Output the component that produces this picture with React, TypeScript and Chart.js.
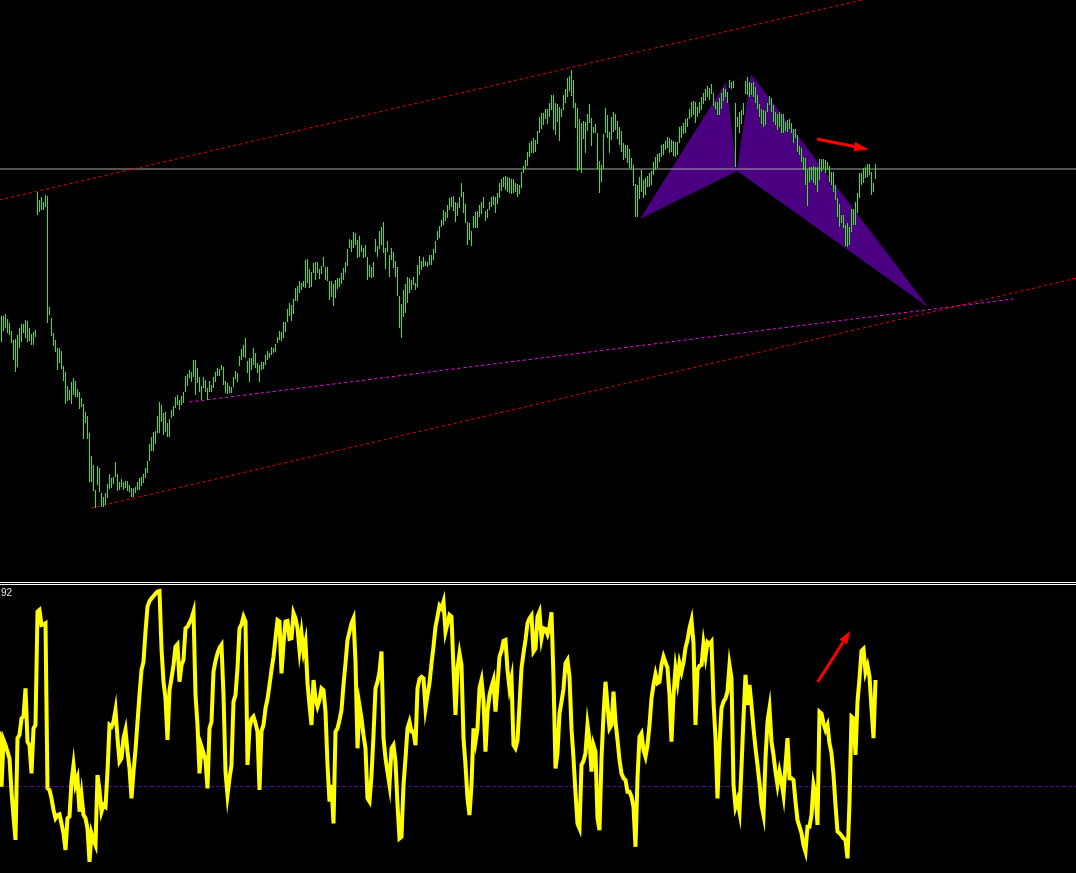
import React, { useEffect, useRef } from "react";
import { Chart, registerables } from "chart.js";

Chart.register(...registerables);

// ---------- Price panel data (bar index -> high / low, in price points) ----------
const barHighs = [
  284, 284, 286, 281, 277, 269, 260, 261, 265, 272,
  276, 276, 280, 279, 272, 266, 268, 270, 408, 400,
  403, 398, 405, 404, 293, 282, 267, 260, 252, 252,
  249, 234, 228, 214, 210, 218, 222, 219, 211, 208,
  202, 196, 188, 184, 167, 144, 135, 110, 134, 132,
  107, 103, 107, 116, 126, 122, 123, 138, 126, 118,
  121, 118, 119, 119, 115, 112, 112, 113, 118, 122,
  123, 126, 132, 139, 156, 163, 168, 169, 184, 198,
  195, 187, 188, 177, 181, 190, 194, 203, 205, 200,
  204, 208, 224, 226, 230, 228, 240, 240, 232, 223,
  214, 223, 220, 212, 219, 215, 223, 228, 232, 231,
  235, 233, 219, 217, 214, 213, 223, 229, 227, 244,
  251, 255, 262, 239, 242, 242, 252, 247, 237, 235,
  238, 238, 245, 249, 247, 253, 252, 256, 263, 269,
  268, 278, 278, 291, 297, 295, 301, 312, 314, 319,
  317, 319, 340, 341, 331, 328, 337, 338, 338, 331,
  334, 343, 333, 333, 319, 319, 316, 320, 322, 322,
  327, 332, 338, 351, 361, 360, 368, 367, 360, 364,
  355, 352, 355, 343, 335, 333, 338, 361, 354, 369,
  373, 378, 352, 359, 345, 352, 348, 339, 333, 304,
  296, 310, 316, 323, 322, 320, 323, 317, 335, 344,
  339, 343, 339, 338, 345, 345, 351, 359, 369, 374,
  380, 390, 388, 395, 402, 403, 404, 398, 397, 403,
  417, 408, 396, 378, 377, 369, 384, 388, 389, 395,
  398, 403, 389, 391, 398, 403, 404, 403, 407, 417,
  421, 423, 424, 423, 422, 421, 421, 417, 416, 415,
  428, 434, 440, 448, 457, 459, 462, 460, 469, 483,
  487, 487, 491, 491, 497, 505, 505, 497, 496, 493,
  491, 505, 511, 522, 524, 530, 520, 497, 492, 481,
  477, 479, 478, 486, 496, 482, 473, 476, 467, 439,
  435, 466, 492, 485, 468, 483, 488, 486, 479, 473,
  469, 457, 455, 455, 451, 442, 435, 416, 415, 423,
  430, 420, 422, 424, 427, 429, 438, 443, 446, 447,
  455, 456, 459, 463, 462, 460, 459, 458, 458, 473,
  474, 477, 481, 482, 491, 498, 499, 498, 493, 498,
  503, 507, 511, 514, 512, 516, 507, 498, 498, 502,
  507, 512, 511, 508, 520, 518, 519, 497, 483, 488,
  490, 497, 519, 523, 518, 517, 518, 513, 505, 496,
  491, 490, 489, 497, 504, 502, 495, 488, 486, 488,
  486, 486, 478, 480, 481, 477, 471, 471, 465, 454,
  452, 443, 442, 430, 433, 433, 434, 433, 433, 441,
  441, 441, 440, 438, 434, 428, 428, 415, 402, 396,
  385, 385, 375, 377, 373, 391, 391, 398, 407, 427,
  427, 432, 433, 436, 436, 428, 417, 436,
];

const barLows = [
  258, 269, 272, 267, 265, 257, 240, 228, 233, 252,
  258, 267, 262, 258, 259, 255, 255, 263, 385, 388,
  390, 390, 393, 277, 285, 264, 254, 248, 230, 237,
  231, 219, 196, 199, 200, 196, 205, 203, 203, 191,
  193, 161, 177, 161, 118, 118, 109, 92, 115, 108,
  93, 93, 95, 102, 111, 112, 116, 123, 109, 110,
  113, 110, 112, 109, 108, 103, 103, 107, 110, 110,
  114, 117, 122, 127, 139, 149, 149, 156, 167, 167,
  178, 165, 168, 163, 163, 182, 184, 192, 195, 190,
  195, 197, 208, 214, 222, 218, 223, 205, 217, 208,
  200, 212, 208, 200, 208, 208, 212, 218, 224, 224,
  230, 215, 207, 206, 207, 207, 213, 221, 218, 234,
  240, 243, 242, 227, 218, 230, 235, 232, 227, 218,
  230, 231, 235, 240, 242, 245, 247, 248, 257, 260,
  259, 262, 268, 278, 284, 279, 286, 299, 299, 307,
  310, 313, 312, 317, 312, 313, 327, 320, 327, 321,
  326, 333, 320, 319, 300, 303, 294, 302, 311, 313,
  316, 320, 327, 334, 352, 348, 352, 355, 342, 343,
  348, 342, 343, 320, 323, 322, 323, 348, 343, 351,
  355, 347, 331, 348, 323, 340, 332, 323, 304, 272,
  262, 283, 287, 297, 307, 310, 315, 310, 313, 325,
  330, 333, 334, 333, 335, 335, 340, 347, 360, 362,
  373, 375, 379, 382, 390, 393, 389, 378, 384, 392,
  403, 387, 377, 355, 360, 354, 372, 372, 372, 383,
  386, 392, 379, 382, 390, 393, 395, 387, 396, 402,
  409, 413, 410, 408, 407, 406, 407, 408, 403, 406,
  412, 427, 431, 434, 443, 447, 447, 448, 456, 467,
  471, 475, 481, 476, 483, 490, 470, 465, 478, 459,
  483, 490, 497, 503, 509, 504, 492, 472, 429, 431,
  427, 461, 447, 469, 477, 454, 467, 467, 431, 407,
  418, 431, 467, 462, 447, 460, 468, 470, 461, 455,
  448, 440, 442, 437, 432, 431, 414, 383, 383, 401,
  408, 402, 405, 413, 413, 415, 425, 430, 432, 438,
  443, 445, 450, 452, 447, 448, 444, 443, 445, 457,
  462, 466, 467, 473, 481, 483, 485, 477, 483, 487,
  490, 496, 499, 503, 500, 506, 494, 491, 485, 485,
  491, 499, 503, 497, 512, 511, 512, 433, 473, 467,
  476, 485, 506, 505, 503, 505, 503, 497, 491, 483,
  476, 473, 475, 488, 495, 488, 478, 475, 470, 473,
  467, 467, 469, 468, 471, 467, 457, 462, 448, 445,
  438, 430, 415, 394, 418, 420, 417, 415, 408, 420,
  428, 431, 427, 430, 418, 415, 408, 400, 383, 373,
  377, 372, 354, 353, 355, 368, 375, 375, 387, 402,
  415, 417, 422, 423, 425, 405, 408, 421,
];

// Drawn objects on the price panel: [bar index, price]
const upperChannel = [[-1, 400], [538, 650]];
const lowerChannel = [[45, 92], [538, 322]];
const supportLine = [[94, 198], [506, 301]];
const horizontalLevel = 431;
const patternXAB = [[319.25, 381], [362.25, 518], [367.75, 429]];
const patternBCD = [[367.75, 429], [374.75, 526], [463.25, 293]];
const priceArrow = [[407.75, 461], [433.75, 450.5]];

// ---------- Oscillator panel data ----------
const oscStartIndex = -1;
const oscValues = [
  49.1,
  30.0, 46.2, 44.4, 42.1, 39.8, 28.2, 19.6, 11.5, 46.8, 47.9,
  53.7, 54.3, 64.1, 45.6, 44.4, 34.6, 50.2, 51.4, 90.7, 91.3,
  86.1, 86.3, 86.7, 29.4, 28.8, 25.9, 21.9, 19.0, 20.1, 20.4,
  17.2, 13.8, 8.0, 19.0, 19.6, 31.7, 37.5, 30.6, 32.9, 21.3,
  27.1, 20.1, 19.0, 15.5, 3.9, 13.8, 11.5, 9.7, 34.0, 28.8,
  21.3, 23.6, 23.0, 35.2, 51.4, 50.8, 52.5, 56.6, 46.8, 38.7,
  39.8, 46.8, 49.7, 42.1, 36.3, 25.9, 35.2, 42.7, 52.5, 61.8,
  70.5, 73.4, 83.8, 92.5, 94.4, 95.4, 96.1, 97.0, 97.7, 97.9,
  78.0, 66.4, 60.6, 46.2, 63.5, 67.6, 72.2, 78.6, 79.4, 66.4,
  72.2, 74.0, 85.0, 85.5, 86.9, 88.4, 90.7, 61.8, 51.4, 34.6,
  43.9, 41.6, 39.2, 29.4, 50.2, 52.5, 69.9, 73.6, 76.3, 78.2,
  79.2, 61.8, 35.2, 27.1, 32.9, 37.5, 59.5, 61.8, 71.1, 85.0,
  86.3, 89.0, 87.3, 37.5, 50.2, 53.5, 54.3, 52.0, 49.1, 28.8,
  49.3, 51.4, 57.2, 60.4, 65.3, 70.5, 75.1, 81.5, 87.8, 87.3,
  69.3, 79.7, 87.3, 87.5, 81.3, 81.5, 90.2, 88.4, 85.0, 77.4,
  83.2, 76.9, 80.3, 65.9, 58.3, 51.4, 67.0, 60.6, 57.8, 60.1,
  64.1, 63.5, 56.0, 37.5, 24.8, 30.6, 17.2, 49.1, 50.2, 53.1,
  56.6, 65.3, 72.8, 80.9, 83.8, 86.7, 88.4, 73.4, 43.3, 58.1,
  53.7, 47.9, 43.3, 25.9, 24.8, 34.0, 47.9, 64.1, 66.4, 69.9,
  76.9, 46.8, 39.8, 35.2, 30.6, 43.3, 44.4, 38.7, 23.6, 12.0,
  12.6, 30.6, 39.8, 50.2, 52.5, 49.1, 49.1, 44.4, 64.1, 67.4,
  68.1, 67.6, 57.2, 61.8, 65.9, 72.8, 78.6, 85.5, 89.0, 92.8,
  91.9, 94.2, 83.8, 86.7, 89.6, 89.0, 71.1, 54.9, 71.1, 76.3,
  72.2, 46.8, 37.5, 25.9, 20.1, 30.6, 50.2, 45.6, 50.2, 64.1,
  67.0, 60.1, 42.1, 56.0, 61.8, 64.7, 67.0, 56.0, 65.3, 75.1,
  77.1, 80.6, 80.9, 70.5, 64.1, 67.6, 44.4, 43.3, 46.2, 58.3,
  71.1, 76.3, 80.9, 86.7, 88.4, 89.4, 76.9, 78.0, 89.0, 90.7,
  81.5, 85.0, 84.7, 82.9, 85.5, 90.5, 67.6, 36.3, 41.6, 55.4,
  59.5, 63.9, 72.8, 74.0, 68.2, 50.2, 39.8, 27.7, 17.2, 15.5,
  37.5, 38.9, 41.6, 51.4, 46.2, 35.2, 44.4, 42.1, 19.0, 14.9,
  39.8, 54.9, 66.4, 58.3, 50.2, 51.4, 63.0, 52.5, 46.2, 39.2,
  34.6, 32.9, 32.3, 28.2, 28.2, 26.5, 23.0, 9.1, 32.9, 47.3,
  48.5, 42.7, 40.4, 44.4, 51.4, 60.6, 65.3, 69.0, 65.9, 66.4,
  72.2, 75.1, 73.1, 71.3, 61.8, 45.6, 61.8, 71.1, 66.4, 72.8,
  69.9, 73.1, 78.2, 80.9, 85.0, 87.8, 79.7, 51.4, 70.5, 72.0,
  72.2, 79.7, 75.1, 80.1, 79.4, 80.3, 59.5, 46.8, 25.9, 44.4,
  57.2, 59.5, 60.6, 63.0, 72.2, 67.6, 30.6, 23.0, 25.3, 21.3,
  36.9, 53.7, 68.8, 58.3, 65.3, 58.3, 50.2, 43.3, 37.5, 31.1,
  23.6, 20.1, 39.8, 52.5, 57.2, 45.6, 41.0, 35.2, 30.6, 35.2,
  31.7, 27.1, 37.5, 46.8, 32.9, 32.9, 32.3, 24.8, 18.4, 16.1,
  13.8, 9.7, 7.4, 16.1, 16.1, 20.1, 30.6, 27.1, 16.7, 56.0,
  55.4, 52.0, 49.7, 51.4, 45.0, 41.6, 34.0, 23.6, 14.4, 13.8,
  13.0, 12.0, 11.5, 5.1, 24.8, 54.3, 53.7, 41.0, 59.5, 67.6,
  77.1, 77.8, 69.7, 72.0, 68.2, 57.2, 46.8, 67.0,
];
const oscLevel = 30;
const oscLabel = "92";
const oscArrow = [[408.1, 66.3], [424.4, 84.0]];

// ---------- view ranges ----------
const X_MIN = -0.75;
const X_MAX = 537.25;
const PRICE_MIN = 19;
const PRICE_MAX = 600;
const OSC_MIN = 0;
const OSC_MAX = 100;

const W = 1076;
const TOP_H = 581;
const BOTTOM_TOP = 585;
const BOTTOM_H = 288;

const pts = (arr: number[][]) => arr.map(([x, y]) => ({ x, y }));

function makeArrowPlugin(id: string, arrows: { line: number[][]; color: string; width: number; head: number; half: number }[]) {
  return {
    id,
    afterDatasetsDraw(chart: any) {
      const { ctx } = chart;
      const xs = chart.scales.x;
      const ys = chart.scales.y;
      for (const a of arrows) {
        const x1 = xs.getPixelForValue(a.line[0][0]);
        const y1 = ys.getPixelForValue(a.line[0][1]);
        const x2 = xs.getPixelForValue(a.line[1][0]);
        const y2 = ys.getPixelForValue(a.line[1][1]);
        const ang = Math.atan2(y2 - y1, x2 - x1);
        const bx = x2 - a.head * Math.cos(ang);
        const by = y2 - a.head * Math.sin(ang);
        ctx.save();
        ctx.strokeStyle = a.color;
        ctx.lineWidth = a.width;
        ctx.beginPath();
        ctx.moveTo(x1, y1);
        ctx.lineTo(bx, by);
        ctx.stroke();
        ctx.fillStyle = a.color;
        ctx.beginPath();
        ctx.moveTo(x2, y2);
        ctx.lineTo(bx + a.half * Math.sin(ang), by - a.half * Math.cos(ang));
        ctx.lineTo(bx - a.half * Math.sin(ang), by + a.half * Math.cos(ang));
        ctx.closePath();
        ctx.fill();
        ctx.restore();
      }
    },
  };
}

const baseOptions = (ymin: number, ymax: number) => ({
  animation: false as const,
  responsive: false,
  maintainAspectRatio: false,
  events: [] as any[],
  layout: { padding: 0 },
  plugins: {
    legend: { display: false },
    tooltip: { enabled: false },
    title: { display: false },
  },
  scales: {
    x: { type: "linear" as const, min: X_MIN, max: X_MAX, display: false, offset: false },
    y: { type: "linear" as const, min: ymin, max: ymax, display: false },
  },
});

export default function App() {
  const topRef = useRef<HTMLCanvasElement | null>(null);
  const bottomRef = useRef<HTMLCanvasElement | null>(null);

  useEffect(() => {
    const lineDs = (data: any[], color: string, extra: any = {}) => ({
      type: "line" as const,
      data,
      borderColor: color,
      borderWidth: 1,
      pointRadius: 0,
      tension: 0,
      fill: false,
      ...extra,
    });

    const top = new Chart(topRef.current!, {
      type: "bar",
      data: {
        datasets: [
          {
            type: "bar",
            data: barHighs.map((h, i) => ({ x: i, y: [barLows[i], h] })) as any,
            backgroundColor: "#3ae81c",
            borderWidth: 0,
            barThickness: 1,
            inflateAmount: 0,
            grouped: false,
            order: 1,
          } as any,
          lineDs(pts(patternXAB.concat([patternXAB[0]])), "rgba(0,0,0,0)", {
            fill: "shape",
            backgroundColor: "#4b0082",
            borderWidth: 0,
            order: 20,
          }),
          lineDs(pts(patternBCD.concat([patternBCD[0]])), "rgba(0,0,0,0)", {
            fill: "shape",
            backgroundColor: "#4b0082",
            borderWidth: 0,
            order: 19,
          }),
          lineDs(pts([[X_MIN, horizontalLevel], [X_MAX, horizontalLevel]]), "#a8a8a8", { order: 10 }),
          lineDs(pts(upperChannel), "#ee0000", { borderDash: [3, 3], order: 5 }),
          lineDs(pts(lowerChannel), "#ee0000", { borderDash: [3, 3], order: 5 }),
          lineDs(pts(supportLine), "#ff00ff", { borderDash: [3, 3], order: 5 }),
        ],
      },
      options: baseOptions(PRICE_MIN, PRICE_MAX) as any,
      plugins: [
        makeArrowPlugin("priceArrow", [
          { line: priceArrow, color: "#ff0000", width: 3, head: 15, half: 4.5 },
        ]),
      ],
    });

    const bottom = new Chart(bottomRef.current!, {
      type: "line",
      data: {
        datasets: [
          lineDs(
            oscValues.map((v, k) => ({ x: oscStartIndex + k, y: v })),
            "#ffff00",
            { borderWidth: 4, order: 1, borderJoinStyle: "miter" }
          ),
          lineDs(pts([[X_MIN, oscLevel], [X_MAX, oscLevel]]), "#5010a8", {
            borderDash: [4, 2],
            order: 5,
          }),
        ],
      },
      options: baseOptions(OSC_MIN, OSC_MAX) as any,
      plugins: [
        makeArrowPlugin("oscArrow", [
          { line: oscArrow, color: "#ff0000", width: 3, head: 13, half: 4.5 },
        ]),
      ],
    });

    return () => {
      top.destroy();
      bottom.destroy();
    };
  }, []);

  return (
    <div
      style={{
        position: "fixed",
        left: 0,
        top: 0,
        width: W,
        height: 873,
        background: "#000000",
        overflow: "hidden",
      }}
    >
      <canvas
        ref={topRef}
        width={W}
        height={TOP_H}
        style={{ position: "absolute", left: 0, top: 0, width: W, height: TOP_H, display: "block" }}
      />
      <div style={{ position: "absolute", left: 0, top: 582, width: W, height: 1, background: "#ffffff" }} />
      <div style={{ position: "absolute", left: 0, top: 584, width: W, height: 1, background: "#ffffff" }} />
      <canvas
        ref={bottomRef}
        width={W}
        height={BOTTOM_H}
        style={{ position: "absolute", left: 0, top: BOTTOM_TOP, width: W, height: BOTTOM_H, display: "block" }}
      />
      <div
        style={{
          position: "absolute",
          left: 1,
          top: 588,
          font: '10px "Liberation Sans", Arial, sans-serif',
          lineHeight: "10px",
          color: "#e8e8e8",
          whiteSpace: "nowrap",
        }}
      >
        {oscLabel}
      </div>
    </div>
  );
}
